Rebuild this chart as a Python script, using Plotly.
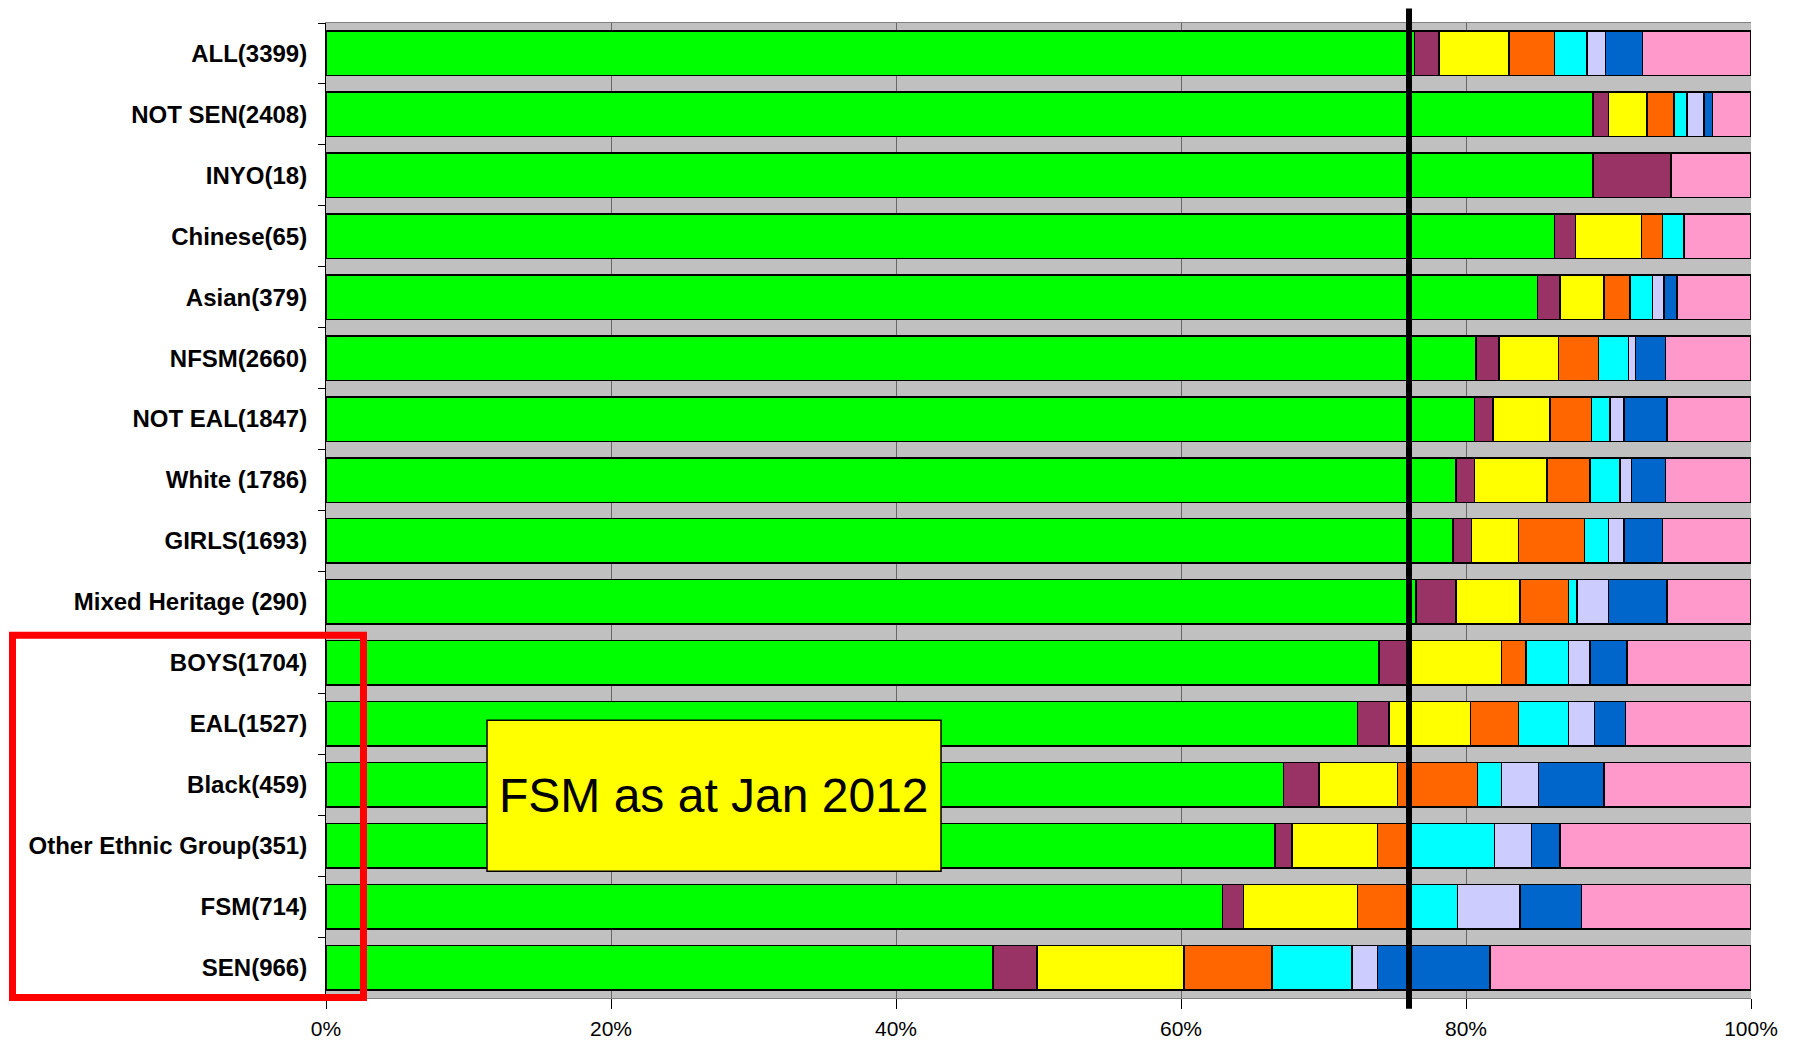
import plotly.graph_objects as go

# rows, top to bottom
groups = ["ALL(3399)", "NOT SEN(2408)", "INYO(18)", "Chinese(65)", "Asian(379)",
          "NFSM(2660)", "NOT EAL(1847)", "White (1786)", "GIRLS(1693)",
          "Mixed Heritage (290)", "BOYS(1704)", "EAL(1527)", "Black(459)",
          "Other Ethnic Group(351)", "FSM(714)", "SEN(966)"]

# percentage shares per band, same row order as groups
band1 = [76.4, 88.9, 88.9, 86.2, 85.0, 80.7, 80.6, 79.3, 79.1, 76.5, 73.9, 72.4, 67.2, 66.6, 62.9, 46.8]
band2 = [1.7, 1.1, 5.5, 1.5, 1.6, 1.6, 1.3, 1.3, 1.3, 2.8, 2.1, 2.2, 2.5, 1.2, 1.5, 3.1]
band3 = [4.9, 2.7, 0.0, 4.6, 3.1, 4.2, 4.0, 5.1, 3.3, 4.5, 6.5, 5.7, 5.5, 6.0, 8.0, 10.3]
band4 = [3.2, 1.9, 0.0, 1.5, 1.8, 2.8, 2.9, 3.0, 4.6, 3.4, 1.7, 3.4, 5.6, 2.2, 3.6, 6.2]
band5 = [2.3, 0.9, 0.0, 1.5, 1.6, 2.1, 1.3, 2.1, 1.7, 0.6, 3.0, 3.5, 1.7, 6.0, 3.4, 5.6]
band6 = [1.3, 1.2, 0.0, 0.0, 0.8, 0.5, 1.0, 0.8, 1.1, 2.2, 1.5, 1.8, 2.6, 2.6, 4.4, 1.8]
band7 = [2.6, 0.6, 0.0, 0.0, 0.9, 2.1, 3.0, 2.4, 2.7, 4.1, 2.6, 2.2, 4.6, 2.0, 4.3, 7.9]
band8 = [7.6, 2.7, 5.6, 4.7, 5.2, 6.0, 5.9, 6.0, 6.2, 5.9, 8.7, 8.8, 10.3, 13.4, 11.9, 18.3]

bands = [band1, band2, band3, band4, band5, band6, band7, band8]
band_names = ["Band 1", "Band 2", "Band 3", "Band 4", "Band 5", "Band 6", "Band 7", "Band 8"]
band_colors = ["#00FF00", "#993366", "#FFFF00", "#FF6600", "#00FFFF", "#CCCCFF", "#0066CC", "#FF99CC"]

marker_line = 76  # vertical reference line, %
box_text = "FSM as at Jan 2012"

font = "Arial, Liberation Sans, sans-serif"

fig = go.Figure()
for name, vals, col in zip(band_names, bands, band_colors):
    fig.add_trace(go.Bar(
        y=groups, x=vals, name=name, orientation="h",
        marker=dict(color=col, line=dict(color="black", width=1.5)),
    ))

# page body has an 8px margin, so the figure is sized to fit inside it
fig.update_layout(
    width=1782, height=1033,
    barmode="stack", bargap=0.27,
    showlegend=False,
    paper_bgcolor="white", plot_bgcolor="#C0C0C0",
    margin=dict(l=318, r=39, t=15, b=43),
    font=dict(family=font, color="black"),
)

fig.update_xaxes(
    range=[0, 100], dtick=20, ticksuffix="%",
    showgrid=True, gridcolor="#666666", gridwidth=1,
    zeroline=False, automargin=False,
    showline=True, linecolor="#808080", linewidth=1, mirror=True,
    ticks="outside", ticklen=10, tickcolor="black",
    tickfont=dict(size=21, family=font),
    ticklabelstandoff=2,
)
fig.update_yaxes(
    categoryorder="array", categoryarray=groups, autorange="reversed",
    showline=True, linecolor="black", linewidth=1, mirror=False,
    ticks="outside", ticklen=7, tickcolor="black", tickson="boundaries",
    tickfont=dict(size=24, family=font, weight="bold"),
    showgrid=False, automargin=False,
    ticklabelstandoff=13,
)

# thick black reference line
fig.add_shape(type="line", xref="x", yref="paper",
              x0=marker_line, x1=marker_line, y0=-0.011, y1=1.015,
              line=dict(color="black", width=6))

# yellow note box
bx0, bx1, by0, by1 = 0.113, 0.4316, 0.130, 0.285
fig.add_shape(type="rect", xref="paper", yref="paper",
              x0=bx0, x1=bx1, y0=by0, y1=by1,
              fillcolor="#FFFF00", line=dict(color="black", width=1.5))
fig.add_annotation(xref="paper", yref="paper", x=(bx0 + bx1) / 2, y=(by0 + by1) / 2,
                   xanchor="center", yanchor="middle",
                   text=box_text, showarrow=False,
                   font=dict(size=48, family=font, color="black"))

# red highlight frame
fig.add_shape(type="rect", xref="paper", yref="paper",
              x0=-0.22, x1=0.0263, y0=0.0005, y1=0.372,
              line=dict(color="#FF0000", width=7))

fig.write_html("out.html")
